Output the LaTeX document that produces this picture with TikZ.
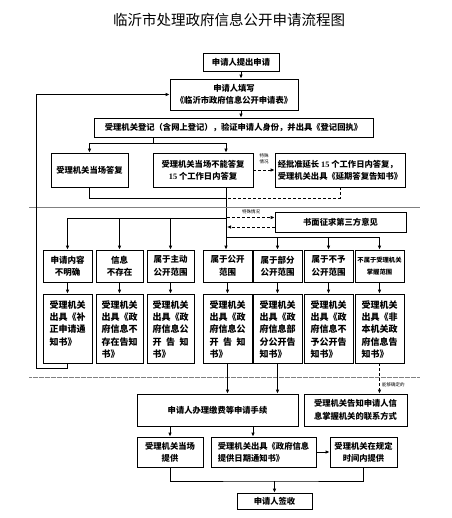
\documentclass[tikz,border=0pt]{standalone}
\usepackage{fontspec}
\setmainfont{Noto Sans CJK SC}
\newfontfamily\numf{Liberation Serif}
\usetikzlibrary{arrows.meta}
\begin{document}
\begin{tikzpicture}[x=1pt,y=-1pt,
  box/.style={draw, line width=0.8pt, inner sep=0pt, align=center, font=\fontsize{8.3}{12}\selectfont\bfseries},
  r1/.style={box, minimum height=32pt, font=\fontsize{8.5}{12.5}\selectfont\bfseries},
  r2/.style={draw, line width=0.8pt, inner sep=0pt, minimum height=69pt, font=\fontsize{9}{12.3}\selectfont\bfseries},
  arr/.style={line width=0.8pt, -{Latex[length=4pt,width=3.6pt]}},
  ln/.style={line width=0.8pt},
  dsh/.style={dash pattern=on 3pt off 2pt},
  tiny/.style={font=\fontsize{4.5}{5.5}\selectfont, inner sep=0pt, align=center}]
\useasboundingbox (0,0) rectangle (451,518);
\newcommand{\colbox}[1]{\parbox[c][69pt][t]{36pt}{\vspace*{6.5pt}\raggedright #1}}
\newcommand{\spreadline}{\leavevmode\makebox[36pt][s]{开\hfill 告\hfill 知}}
% title
\node[font=\fontsize{14.5}{16}\selectfont] (title) at (229,20) {临沂市处理政府信息公开申请流程图};
% top part
\node[box, minimum width=76pt, minimum height=18pt] (b1) at (241,62) {申请人提出申请};
\node[box, minimum width=128pt, minimum height=31pt] (b2) at (234,94.5) {申请人填写\\《临沂市政府信息公开申请表》};
\node[box, minimum width=279pt, minimum height=19pt] (b3) at (233.5,127.5) {受理机关登记（含网上登记），验证申请人身份，并出具《登记回执》};
\node[box, minimum width=77pt, minimum height=34pt] (b4) at (89.5,170) {受理机关当场答复};
\node[box, minimum width=100pt, minimum height=34pt] (b5) at (203,170) {受理机关当场不能答复\\{\numf 15} 个工作日内答复};
\node[box, minimum width=130pt, minimum height=34pt, align=left] (b6) at (340,170) {经批准延长 {\numf 15} 个工作日内答复，\\受理机关出具《延期答复告知书》};
\draw[arr] (b1.south) -- (b1.south |- b2.north);
\draw[arr] (b1.south |- b2.south) -- (b1.south |- b3.north);
\coordinate (s1) at (153,143);
\coordinate (sp) at (226,143);
\draw[ln] (s1 |- b3.south) -- (s1);
\draw[arr] (s1) -| (b4.north);
\draw[arr] (s1) -| (sp |- b5.north);
\draw[arr, dsh] (b5.east) -- (b6.west);
\node[tiny] (t1) at (264,159) {特殊\\情况};
\coordinate (j1) at (226,198);
\coordinate (j2) at (226,218);
\coordinate (j3) at (226,237);
\draw[ln] (b4.south) |- (j1);
\draw[ln, dsh] (b6.south) |- (j1);
\draw[ln] (sp |- b5.south) -- (j3);
% separator
\draw[gray, line width=0.6pt] (29,207) -- (420,207);
% third party
\node[box, minimum width=131pt, minimum height=20pt] (bq) at (340.5,222.5) {书面征求第三方意见};
\coordinate (q1) at (227,217.5);
\coordinate (q2) at (227,227);
\draw[arr, dsh] (q1) -- (q1 -| bq.west);
\draw[arr, dsh] (q2 -| bq.west) -- (q2);
\node[tiny] (t2) at (251,212) {特殊情况};
% row 1
\node[r1, minimum width=49pt] (A) at (67.5,266) {申请内容\\不明确};
\node[r1, minimum width=47pt] (B) at (119.5,266) {信息\\不存在};
\node[r1, minimum width=47pt] (C) at (170.5,266) {属于主动\\公开范围};
\node[r1, minimum width=49pt] (D) at (227.5,266) {属于公开\\范围};
\node[r1, minimum width=49pt] (E) at (277.5,266) {属于部分\\公开范围};
\node[r1, minimum width=49pt] (F) at (328.5,266) {属于不予\\公开范围};
\node[r1, minimum width=49pt, font=\fontsize{6.3}{12.5}\selectfont\bfseries] (G) at (379.5,266) {不属于受理机关\\掌握范围};
\draw[arr] (j2) -| (A.north);
\draw[arr] (B.north |- j2) -- (B.north);
\draw[arr] (C.north |- j2) -- (C.north);
\draw[arr] (j3) -- (j3 |- D.north);
\draw[arr] (j3) -| (G.north);
\draw[arr] (E.north |- j3) -- (E.north);
\draw[arr] (F.north |- j3) -- (F.north);
% row 2
\node[r2, minimum width=49pt] (A2) at (67.5,328.5) {\colbox{受理机关\\出具《补\\正申请通\\知书》}};
\node[r2, minimum width=47pt] (B2) at (119.5,328.5) {\colbox{受理机关\\出具《政\\府信息不\\存在告知\\书》}};
\node[r2, minimum width=47pt] (C2) at (170.5,328.5) {\colbox{受理机关\\出具《政\\府信息公\\\spreadline\\书》}};
\node[r2, minimum width=49pt] (D2) at (227.5,328.5) {\colbox{受理机关\\出具《政\\府信息公\\\spreadline\\书》}};
\node[r2, minimum width=49pt] (E2) at (277.5,328.5) {\colbox{受理机关\\出具《政\\府信息部\\分公开告\\知书》}};
\node[r2, minimum width=49pt] (F2) at (328.5,328.5) {\colbox{受理机关\\出具《政\\府信息不\\予公开告\\知书》}};
\node[r2, minimum width=49pt] (G2) at (379.5,328.5) {\colbox{受理机关\\出具《非\\本机关政\\府信息告\\知书》}};
\foreach \n in {A,B,C,D,E,F,G} {\draw[arr] (\n.south) -- (\n2.north);}
% feedback
\coordinate (fb) at (36,368);
\draw[arr] (A2.south) |- (fb) |- (b2.west);
% dotted separator
\draw[gray, line width=0.6pt, dash pattern=on 0.6pt off 0.6pt] (29,377) -- (420,377);
% bottom part
\node[box, minimum width=161pt, minimum height=32pt] (bp) at (217.5,410) {申请人办理缴费等申请手续};
\node[box, minimum width=103pt, minimum height=32pt, font=\fontsize{8.3}{13}\selectfont\bfseries] (bi) at (355.5,410) {受理机关告知申请人信\\息掌握机关的联系方式};
\draw[arr] (D2.south) -- (D2.south |- bp.north);
\draw[arr] (E2.south) -- (E2.south |- bp.north);
\draw[arr, dsh] (G2.south) -- (G2.south |- bi.north);
\node[tiny, anchor=west] (t3) at (382,385) {能够确定的};
\node[box, minimum width=66pt, minimum height=30pt] (p1) at (170,452) {受理机关当场\\提供};
\node[box, minimum width=105pt, minimum height=30pt, align=left] (p2) at (263.5,452) {受理机关出具《政府信息\\提供日期通知书》};
\node[box, minimum width=67pt, minimum height=30pt] (p3) at (363.5,452) {受理机关在规定\\时间内提供};
\coordinate (k2) at (253,426);
\draw[arr] (p1.north |- bp.south) -- (p1.north);
\draw[arr] (k2) -- (k2 |- p2.north);
\draw[arr] (p2.east) -- (p3.west);
\node[box, minimum width=75pt, minimum height=16pt] (fin) at (274.5,501) {申请人签收};
\coordinate (m) at (274.5,481);
\draw[ln] (p1.south) |- (m) -| (p3.south);
\draw[arr] (m) -- (fin.north);
\end{tikzpicture}
\end{document}
